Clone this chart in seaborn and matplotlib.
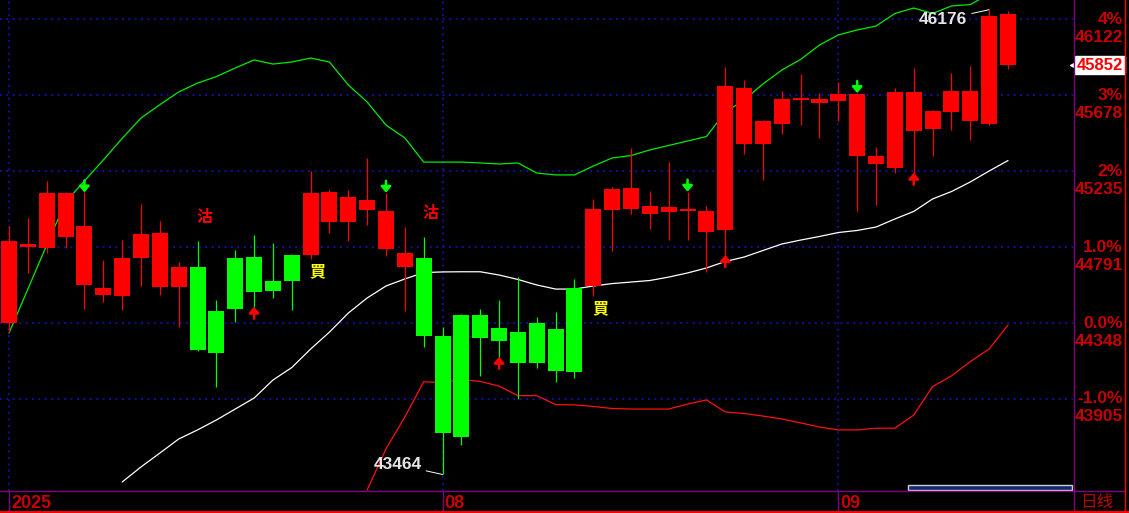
import numpy as np
import pandas as pd
import matplotlib
matplotlib.use("Agg")
import matplotlib.pyplot as plt
import seaborn as sns
from matplotlib.transforms import blended_transform_factory
from matplotlib.patches import Rectangle
from matplotlib.lines import Line2D

# ---- datos (54 velas diarias, jul-sep 2025) ----
opens = [44350, 44793, 44787, 44852, 44572, 44513, 44507, 44729, 44560, 44560,
         44675, 44418, 44727, 44733, 44593, 44745, 44747, 44939, 44939, 45009,
         44778, 44673, 44727, 44272, 44395, 44395, 44319, 44295, 44348, 44313,
         44552, 44566, 45009, 45015, 44986, 44998, 45003, 44881, 44892, 45394,
         45394, 45511, 45651, 45634, 45645, 45684, 45278, 45254, 45470, 45482,
         45581, 45528, 45511, 46153]
highs = [44916, 44962, 45177, 45110, 45110, 44716, 44832, 45044, 44943, 44704,
         44826, 44482, 44774, 44862, 44815, 44751, 45235, 45130, 45124, 45311,
         45108, 44906, 44848, 44323, 44400, 44430, 44482, 44616, 44383, 44412,
         44605, 45072, 45142, 45369, 45118, 45287, 45114, 45032, 45842, 45766,
         45533, 45702, 45801, 45690, 45754, 45690, 45377, 45721, 45838, 45593,
         45809, 45849, 46176, 46170]
lows = [44297, 44642, 44755, 44787, 44431, 44472, 44426, 44566, 44513, 44326,
        44186, 43976, 44356, 44443, 44496, 44426, 44723, 44871, 44825, 44918,
        44737, 44420, 44210, 43464, 43634, 44040, 44151, 43903, 44087, 44005,
        44029, 44507, 44770, 44986, 44898, 44834, 44834, 44644, 44745, 45336,
        45184, 45453, 45505, 45429, 45528, 45003, 45038, 45225, 45225, 45324,
        45476, 45418, 45505, 45832]
closes = [44826, 44809, 45107, 45107, 44914, 44552, 44727, 44867, 44873, 44675,
          44192, 44175, 44431, 44531, 44536, 44595, 45107, 45112, 45083, 45066,
          45002, 44756, 44274, 43708, 43681, 44262, 44245, 44116, 44116, 44070,
          44064, 45013, 45130, 45136, 45031, 45025, 45013, 45002, 45731, 45719,
          45527, 45655, 45661, 45655, 45684, 45324, 45324, 45698, 45698, 45587,
          45704, 45704, 46141, 45852]
candle_colors = "rrrrrrrrrrggggggrrrrrrgggggggggrrrrrrrrrrrrrrrrrrrrrrr"

# bandas de bollinger
upper = [44290, 44546, 44803, 45054, 45177, 45299, 45425, 45544, 45622, 45696,
         45748, 45786, 45836, 45883, 45859, 45871, 45894, 45871, 45737, 45638,
         45503, 45428, 45287, 45287, 45287, 45282, 45276, 45282, 45223, 45212,
         45212, 45264, 45311, 45325, 45358, 45384, 45410, 45436, 45579, 45649,
         45743, 45824, 45886, 45970, 46029, 46058, 46081, 46154, 46186, 46154,
         46198, 46206, 46268, 46314]
middle_start = 6
middle = [43420, 43508, 43589, 43671, 43724, 43782, 43846, 43910, 44015, 44088,
          44196, 44295, 44406, 44494, 44564, 44605, 44642, 44646, 44647, 44647,
          44628, 44602, 44570, 44546, 44546, 44564, 44578, 44587, 44596, 44616,
          44640, 44669, 44707, 44733, 44771, 44809, 44832, 44853, 44876, 44888,
          44908, 44955, 44999, 45072, 45115, 45171, 45235, 45296]
lower_start = 19
lower = [43374, 43613, 43800, 44005, 44001, 44018, 44007, 43980, 43924, 43924,
         43872, 43870, 43861, 43849, 43846, 43846, 43846, 43875, 43899, 43829,
         43820, 43805, 43788, 43765, 43741, 43724, 43724, 43734, 43734, 43811,
         43977, 44039, 44123, 44196, 44336]

# señales
sell_arrow_idx = [4, 20, 36, 45]
buy_arrow_idx = [13, 26, 38, 48]
sell_text_idx = [10, 22]
buy_text_idx = [16, 31]

# ejes
base_price = 44348
pct_levels = [4, 3, 2, 1, 0, -1]
pct_labels = ["4%", "3%", "2%", "1.0%", "0.0%", "-1.0%"]
price_labels = ["46122", "45678", "45235", "44791", "44348", "43905"]
month_idx = [0, 23, 44]
month_labels = ["2025", "08", "09"]

n = len(closes)
idx = np.arange(n)
df = pd.DataFrame({
    "i": idx,
    "upper": upper,
    "middle": [np.nan] * middle_start + middle,
    "lower": [np.nan] * lower_start + lower,
})

sns.set_style("dark")
plt.rcParams["font.family"] = ["Liberation Sans", "Noto Sans CJK TC", "DejaVu Sans"]

W, H = 1129, 513
fig = plt.figure(figsize=(W / 100, H / 100), dpi=100, facecolor="black")
ax = fig.add_axes([0, 22 / H, 1073 / W, 491 / H])
ax.set_facecolor("black")
ppx = 5.8353  # puntos por pixel
ax.set_xlim(-0.48, 56.45)
ax.set_ylim(base_price - 168 * ppx, base_price + 323 * ppx)
for s in ax.spines.values():
    s.set_visible(False)

grid_prices = [base_price * (1 + p / 100) for p in pct_levels]
grid_kw = dict(color="#1414d2", lw=1.1, ls=(0, (1.2, 3)), zorder=0)
for gp in grid_prices:
    ax.axhline(gp, **grid_kw)
for m in month_idx:
    ax.axvline(m, **grid_kw)

# bandas
sns.lineplot(data=df, x="i", y="upper", color="#00ee00", lw=0.9, ax=ax, zorder=2)
sns.lineplot(data=df, x="i", y="middle", color="white", lw=0.9, ax=ax, zorder=2)
sns.lineplot(data=df, x="i", y="lower", color="#ff1010", lw=0.9, ax=ax, zorder=2)

# velas
cmap = {"r": "#ff0000", "g": "#00ff00"}
cols = [cmap[c] for c in candle_colors]
o = np.array(opens); c = np.array(closes)
bottoms = np.minimum(o, c)
heights = np.maximum(np.abs(c - o), ppx * 1.5)
ax.vlines(idx, lows, highs, colors=cols, lw=0.9, zorder=3)
ax.bar(idx, heights, bottom=bottoms, width=0.85, color=cols, lw=0, zorder=4)

# flechas
arrow_style = "-|>,head_length=0.35,head_width=0.3"
for i in sell_arrow_idx:
    ax.annotate("", xy=(i, highs[i]), xytext=(0, 12), textcoords="offset pixels",
                arrowprops=dict(arrowstyle=arrow_style, color="#00ff00", lw=1.8,
                                shrinkA=0, shrinkB=0), zorder=5)
for i in buy_arrow_idx:
    ax.annotate("", xy=(i, lows[i]), xytext=(0, -12), textcoords="offset pixels",
                arrowprops=dict(arrowstyle=arrow_style, color="#ff0000", lw=1.8,
                                shrinkA=0, shrinkB=0), zorder=5)
for i in sell_text_idx:
    ax.annotate("沽", xy=(i, highs[i]), xytext=(7, 24), textcoords="offset pixels",
                ha="center", va="center", color="#ff0000", fontsize=11.5,
                fontweight="bold", family=["Noto Sans CJK TC", "DejaVu Sans"])
for i in buy_text_idx:
    ax.annotate("買", xy=(i, lows[i]), xytext=(7, -12), textcoords="offset pixels",
                ha="center", va="center", color="#ffff00", fontsize=11.5,
                fontweight="bold", family=["Noto Sans CJK TC", "DejaVu Sans"])

# max / min
imax = int(np.argmax(highs)); imin = int(np.argmin(lows))
ax.annotate(f"{highs[imax]}", xy=(imax, highs[imax]), xytext=(-22, -10),
            textcoords="offset pixels", ha="right", va="center", color="#e6e6e6",
            fontsize=12.5, fontweight="bold",
            arrowprops=dict(arrowstyle="-", color="white", lw=0.7, shrinkA=1, shrinkB=0))
ax.annotate(f"{lows[imin]}", xy=(imin, lows[imin]), xytext=(-21, 10),
            textcoords="offset pixels", ha="right", va="center", color="#e6e6e6",
            fontsize=12.5, fontweight="bold",
            arrowprops=dict(arrowstyle="-", color="white", lw=0.7, shrinkA=1, shrinkB=0))

# eje derecho
trans = blended_transform_factory(fig.transFigure, ax.transData)
for gp, pl, prl in zip(grid_prices, pct_labels, price_labels):
    ax.text(1123 / W, gp, pl, transform=trans, ha="right", va="center", color="#c80000",
            fontsize=12.5, fontweight="bold", clip_on=False)
    ax.annotate(prl, xy=(1123 / W, gp), xycoords=trans, xytext=(0, -18),
                textcoords="offset pixels", ha="right", va="center", color="#c80000",
                fontsize=12.5, fontweight="bold", annotation_clip=False)
ax.text(1123 / W, closes[-1], f"{closes[-1]}", transform=trans, ha="right", va="center",
        color="#ff0000", fontsize=12, fontweight="bold", clip_on=False, zorder=7,
        bbox=dict(boxstyle="square,pad=0.1", fc="white", ec="white"))
ax.plot([1073 / W], [closes[-1]], transform=trans, marker="<", ms=4, color="white",
        clip_on=False, zorder=6)

# eje x
ax.set_xticks(range(4, 57, 5))
ax.tick_params(axis="x", length=3, color="#800080", direction="out", labelbottom=False)
ax.tick_params(axis="y", left=False, labelleft=False)
ax.set_xlabel(""); ax.set_ylabel("")
tx = blended_transform_factory(ax.transData, fig.transFigure)
for m, lab in zip(month_idx, month_labels):
    fig.add_artist(Line2D([m, m], [2 / H, 22 / H], transform=tx, color="#800080", lw=1))
    ax.annotate(lab, xy=(m, 9 / H), xycoords=tx, xytext=(2, 0), textcoords="offset pixels",
                ha="left", va="center", color="#c80000", fontsize=13, fontweight="bold",
                annotation_clip=False)

fig.add_artist(Line2D([0, 1124 / W], [22 / H] * 2, transform=fig.transFigure, color="#800080", lw=1))
fig.add_artist(Line2D([1073.5 / W] * 2, [0, 1], transform=fig.transFigure, color="#800080", lw=1))
fig.add_artist(Line2D([1124.5 / W] * 2, [0, 1], transform=fig.transFigure, color="#ff0000", lw=1))
fig.add_artist(Line2D([0, 1], [1 / H] * 2, transform=fig.transFigure, color="#ff0000", lw=1.5))
fig.add_artist(Rectangle((908 / W, 23 / H), 164 / W, 5 / H, transform=fig.transFigure,
                         fc="#14286e", ec="#d0d0d0", lw=1))
fig.text(1097 / W, 10 / H, "日线", ha="center", va="center", color="#c00000", fontsize=12,
         family=["Noto Sans CJK SC", "DejaVu Sans"])

fig.savefig("out.png", dpi=100, facecolor="black")
plt.close(fig)
